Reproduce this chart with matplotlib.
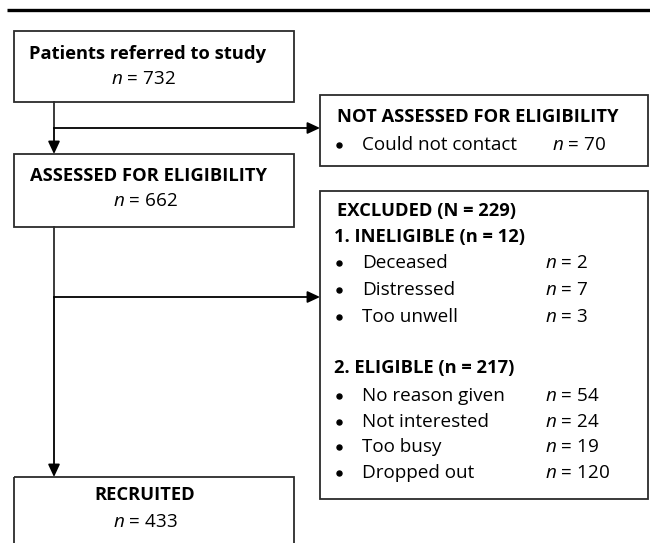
import matplotlib
matplotlib.use('Agg')
import matplotlib.pyplot as plt
from matplotlib.patches import Rectangle

plt.rcParams['font.family'] = ['Open Sans', 'DejaVu Sans']
plt.rcParams['mathtext.fontset'] = 'custom'
plt.rcParams['mathtext.it'] = 'Open Sans:italic'
plt.rcParams['mathtext.rm'] = 'Open Sans'

# flow counts
referred = 732
not_assessed_reasons = ['Could not contact']
not_assessed_n = [70]
assessed = 662
ineligible_reasons = ['Deceased', 'Distressed', 'Too unwell']
ineligible_n = [2, 7, 3]
eligible_reasons = ['No reason given', 'Not interested', 'Too busy', 'Dropped out']
eligible_n = [54, 24, 19, 120]
recruited = 433

FS = 13.6
BFS = 13.2
LC = '#2b2b2b'

fig = plt.figure(figsize=(6.5, 5.43), dpi=100)
ax = fig.add_axes([0, 0, 1, 1])
ax.set_xlim(0, 650)
ax.set_ylim(543, 0)
ax.axis('off')


def box(x0, y0, x1, y1):
    ax.add_patch(Rectangle((x0, y0), x1 - x0, y1 - y0, fill=False,
                           edgecolor=LC, lw=1.3, zorder=2))


def arrow(x0, y0, x1, y1):
    ax.annotate('', xy=(x1, y1), xytext=(x0, y0),
                arrowprops=dict(arrowstyle='-|>,head_length=0.75,head_width=0.35',
                                color='black', lw=1.3, shrinkA=0, shrinkB=0))


def nlabel(x, y, n, ha='left', **kw):
    ax.text(x, y, r'$n$ = %d' % n, ha=ha, va='center', fontsize=FS, **kw)


def bold(x, y, s, ha='left'):
    ax.text(x, y, s, ha=ha, va='center', fontsize=BFS, fontweight='bold')


def item(y, reason, n, nx):
    ax.plot(339, y, 'o', ms=3.6, color='black')
    ax.text(362, y, reason, ha='left', va='center', fontsize=FS)
    nlabel(nx, y, n)


# top rule
ax.plot([7, 650], [9.5, 9.5], color='black', lw=2.4, solid_capstyle='butt')

# left column boxes
box(14, 31, 294, 102)
bold(148, 54, 'Patients referred to study', ha='center')
nlabel(143, 79, referred, ha='center')

box(14, 154, 294, 227)
bold(149, 176, 'ASSESSED FOR ELIGIBILITY', ha='center')
nlabel(145, 201, assessed, ha='center')

box(14, 477, 294, 560)
bold(145, 495, 'RECRUITED', ha='center')
nlabel(145, 522, recruited, ha='center')

# right column boxes
box(320, 95, 648, 166)
bold(337, 117, 'NOT ASSESSED FOR ELIGIBILITY')
for i, (r, n) in enumerate(zip(not_assessed_reasons, not_assessed_n)):
    item(145 + i * 26, r, n, 552)

box(320, 191, 648, 499)
bold(337, 211, 'EXCLUDED (N = %d)' % (sum(ineligible_n) + sum(eligible_n)))
bold(334, 237, '1. INELIGIBLE (n = %d)' % sum(ineligible_n))
for i, (r, n) in enumerate(zip(ineligible_reasons, ineligible_n)):
    item(263 + i * 27, r, n, 545)
bold(334, 368, '2. ELIGIBLE (n = %d)' % sum(eligible_n))
for i, (r, n) in enumerate(zip(eligible_reasons, eligible_n)):
    item(396 + i * 25.7, r, n, 545)

# connectors
ax.plot([54, 54], [102, 128], color=LC, lw=1.3)
arrow(54, 128, 54, 154)
arrow(54, 128, 320, 128)
ax.plot([54, 54], [227, 297], color=LC, lw=1.3)
arrow(54, 297, 320, 297)
arrow(54, 297, 54, 477)

fig.savefig('out.png', dpi=100)
